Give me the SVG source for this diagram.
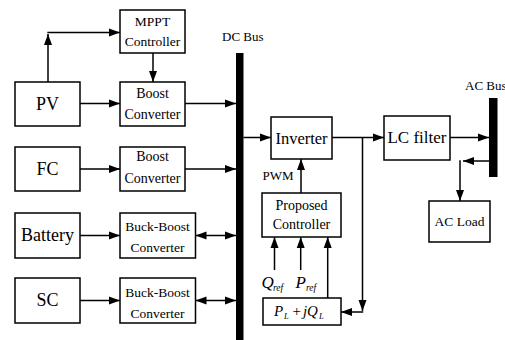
<svg xmlns="http://www.w3.org/2000/svg" width="505" height="340" viewBox="0 0 505 340">
<defs>
<marker id="ah" markerUnits="userSpaceOnUse" markerWidth="12" markerHeight="9" refX="11" refY="4" orient="auto-start-reverse" viewBox="0 0 12 8">
<path d="M0,0 L11,4 L0,8 z" fill="#000"/>
</marker>
<style>
.box{fill:#fff;stroke:#000;stroke-width:1.5}
.ln{fill:none;stroke:#000;stroke-width:1.5}
.a{marker-end:url(#ah)}
.b{marker-start:url(#ah);marker-end:url(#ah)}
.bus{fill:#000}
text{font-family:"Liberation Serif","Times New Roman",serif;fill:#000}
.big{font-size:18px;text-anchor:middle}
.md{font-size:14px;text-anchor:middle}
.sm{font-size:13.5px;text-anchor:middle}
.lab{font-size:13px}
.it{font-style:italic}
</style>
</defs>
<rect id="dcbus" class="bus" x="236" y="53" width="7.5" height="287"/>
<rect id="acbus" class="bus" x="489" y="98" width="8.5" height="79"/>
<text class="lab" x="222" y="41">DC Bus</text>
<text class="lab" x="465" y="89.5">AC Bus</text>
<g id="pv"><rect class="box" x="15" y="82" width="65" height="44"/><text class="big" x="47.5" y="110">PV</text></g>
<g id="fc"><rect class="box" x="15" y="147" width="65" height="44"/><text class="big" x="47.5" y="175">FC</text></g>
<g id="battery"><rect class="box" x="15" y="213" width="65" height="45"/><text class="big" x="47.5" y="241">Battery</text></g>
<g id="sc"><rect class="box" x="15" y="278" width="65" height="45"/><text class="big" x="47.5" y="306">SC</text></g>
<g id="mppt"><rect class="box" x="120" y="10" width="65" height="43"/><text class="sm" x="152.5" y="26">MPPT</text><text class="sm" x="152.5" y="46">Controller</text></g>
<g id="boost1"><rect class="box" x="120" y="82" width="65" height="44"/><text class="md" x="152.5" y="97.5">Boost</text><text class="md" x="152.5" y="119">Converter</text></g>
<g id="boost2"><rect class="box" x="120" y="147" width="65" height="44"/><text class="md" x="152.5" y="161">Boost</text><text class="md" x="152.5" y="183">Converter</text></g>
<g id="buckboost1"><rect class="box" x="120" y="213" width="75.5" height="45"/><text class="sm" x="157.5" y="231">Buck-Boost</text><text class="sm" x="157.5" y="252">Converter</text></g>
<g id="buckboost2"><rect class="box" x="120" y="278" width="75.5" height="45"/><text class="sm" x="157.5" y="297">Buck-Boost</text><text class="sm" x="157.5" y="318">Converter</text></g>
<g id="inverter"><rect class="box" x="271" y="117" width="61" height="42"/><text class="md" x="301.5" y="144" style="font-size:16.5px">Inverter</text></g>
<g id="lcfilter"><rect class="box" x="384" y="116" width="66" height="44"/><text class="md" x="417" y="142.5" style="font-size:17px">LC filter</text></g>
<g id="acload"><rect class="box" x="429" y="201" width="61" height="41"/><text class="sm" x="459.5" y="225.5">AC Load</text></g>
<g id="controller"><rect class="box" x="262" y="193" width="79" height="44"/><text class="md" x="301.5" y="209.5">Proposed</text><text class="md" x="301.5" y="229">Controller</text></g>
<g id="pq"><rect class="box" x="263" y="298" width="78" height="27"/><text class="it" style="font-size:15px"><tspan x="274" y="316">P</tspan><tspan x="284" y="319" style="font-size:8.5px">L</tspan><tspan x="292.5" y="316" style="font-style:normal">+</tspan><tspan x="303" y="316">j</tspan><tspan x="307" y="316">Q</tspan><tspan x="319" y="319" style="font-size:8.5px">L</tspan></text></g>
<text class="it" style="font-size:17px"><tspan x="261.5" y="288">Q</tspan><tspan x="273" y="290.5" style="font-size:9.5px">ref</tspan></text>
<text class="it" style="font-size:17px"><tspan x="295.5" y="288">P</tspan><tspan x="306" y="290.5" style="font-size:9.5px">ref</tspan></text>
<text class="lab" x="262.5" y="179.5">PWM</text>
<g id="connectors">
<path class="ln a" d="M48,82 V34"/>
<path class="ln a" d="M47.3,32.5 H120"/>
<path class="ln a" d="M153,53 V82"/>
<path class="ln a" d="M80,103.5 H120"/>
<path class="ln a" d="M185,103.5 H236"/>
<path class="ln a" d="M80,169 H120"/>
<path class="ln a" d="M185,169 H236"/>
<path class="ln a" d="M80,235.5 H120"/>
<path class="ln b" d="M195.5,235.5 H236"/>
<path class="ln a" d="M80,300.5 H120"/>
<path class="ln b" d="M195.5,300.5 H236"/>
<path class="ln a" d="M243.5,137.5 H271"/>
<path class="ln a" d="M332,137.5 H384"/>
<path class="ln a" d="M450,137.5 H489"/>
<path class="ln a" d="M489,161 H463"/>
<path class="ln a" d="M460,160.3 V201"/>
<path class="ln a" d="M362.5,137.5 V311"/>
<path class="ln a" d="M363.2,312 H341"/>
<path class="ln a" d="M301,193 V159"/>
<path class="ln a" d="M274.5,270 V237"/>
<path class="ln a" d="M300.7,270 V237"/>
<path class="ln a" d="M327.7,298 V237"/>
</g>
</svg>
